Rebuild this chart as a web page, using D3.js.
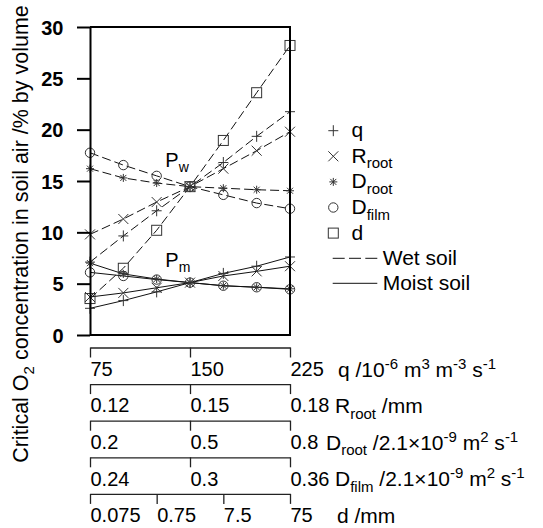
<!DOCTYPE html>
<html>
<head>
<meta charset="utf-8">
<script src="https://cdn.jsdelivr.net/npm/d3@7"></script>
<style>
  body { margin: 0; background: #fff; }
  svg { display: block; font-family: "Liberation Sans", Arial, Helvetica, sans-serif; }
</style>
</head>
<body>
<svg id="chart" width="543" height="528"></svg>
<script>
// Values of each varied property (seven steps each)
const qVals     = [75, 100, 125, 150, 175, 200, 225];
const rRootVals = [0.12, 0.13, 0.14, 0.15, 0.16, 0.17, 0.18];
const dRootVals = [0.2, 0.3, 0.4, 0.5, 0.6, 0.7, 0.8];
const dFilmVals = [0.24, 0.26, 0.28, 0.30, 0.32, 0.34, 0.36];
const dVals     = [0.075, 0.237, 0.75, 2.37, 7.5, 23.7, 75];

// Critical O2 concentration (% by volume) in wet soil
const wetQ     = [7.1, 9.65, 12.1, 14.45, 16.8, 19.35, 21.75];
const wetRRoot = [9.8, 11.3, 12.95, 14.45, 16.2, 17.95, 19.8];
const wetDRoot = [16.2, 15.3, 14.8, 14.45, 14.3, 14.15, 14.05];
const wetDFilm = [17.75, 16.55, 15.5, 14.45, 13.65, 12.85, 12.3];
const wetD     = [3.55, 6.5, 10.2, 14.45, 18.95, 23.6, 28.2];

// Critical O2 concentration (% by volume) in moist soil
const moistQ     = [2.6, 3.35, 4.2, 5.1, 6.0, 6.7, 7.6];
const moistRRoot = [3.7, 4.1, 4.6, 5.1, 5.75, 6.2, 6.7];
const moistDRoot = [7.0, 5.95, 5.45, 5.1, 4.8, 4.65, 4.5];
const moistDFilm = [6.1, 5.75, 5.4, 5.1, 4.8, 4.65, 4.45];

// Tick values and labels
const yTicks      = [0, 5, 10, 15, 20, 25, 30];
const qTicks      = [75, 150, 225];
const qLabels     = ["75", "150", "225"];
const rRootTicks  = [0.12, 0.15, 0.18];
const rRootLabels = ["0.12", "0.15", "0.18"];
const dRootTicks  = [0.2, 0.5, 0.8];
const dRootLabels = ["0.2", "0.5", "0.8"];
const dFilmTicks  = [0.24, 0.3, 0.36];
const dFilmLabels = ["0.24", "0.3", "0.36"];
const dTicks      = [0.075, 0.75, 7.5, 75];
const dLabels     = ["0.075", "0.75", "7.5", "75"];

// Axis titles as [text, role] runs (role: "" normal, "sub", "sup")
const qTitle     = [["q /10", ""], ["-6", "sup"], [" m", ""], ["3", "sup"], [" m", ""], ["-3", "sup"], [" s", ""], ["-1", "sup"]];
const rRootTitle = [["R", ""], ["root", "sub"], [" /mm", ""]];
const dRootTitle = [["D", ""], ["root", "sub"], [" /2.1\u00d710", ""], ["-9", "sup"], [" m", ""], ["2", "sup"], [" s", ""], ["-1", "sup"]];
const dFilmTitle = [["D", ""], ["film", "sub"], [" /2.1\u00d710", ""], ["-9", "sup"], [" m", ""], ["2", "sup"], [" s", ""], ["-1", "sup"]];
const dTitle     = [["d /mm", ""]];

const legendNames = [[["q", ""]], [["R", ""], ["root", "sub"]], [["D", ""], ["root", "sub"]], [["D", ""], ["film", "sub"]], [["d", ""]]];
const legendMarkers = ["plus", "cross", "star", "circle", "square"];

// ---------------------------------------------------------------
const svg = d3.select("#chart");
const plotL = 90, plotR = 290, plotT = 27, plotB = 335;
const FONT = 20;

const y = d3.scaleLinear().domain([0, 30]).range([plotB, plotT]);

const xQ     = d3.scaleLinear().domain([75, 225]).range([plotL, plotR]);
const xRRoot = d3.scaleLinear().domain([0.12, 0.18]).range([plotL, plotR]);
const xDRoot = d3.scaleLinear().domain([0.2, 0.8]).range([plotL, plotR]);
const xDFilm = d3.scaleLinear().domain([0.24, 0.36]).range([plotL, plotR]);
const xD     = d3.scaleLog().domain([0.075, 75]).range([plotL, plotR]);

// write a run of normal / subscript / superscript text into a <text>
function richText(textSel, runs, size) {
  let shift = 0;
  const small = Math.round(size * 0.72);
  runs.forEach(([t, role]) => {
    const target = role === "sub" ? size * 0.27 : role === "sup" ? -size * 0.38 : 0;
    textSel.append("tspan")
      .attr("dy", target - shift)
      .attr("font-size", role ? small : size)
      .text(t);
    shift = target;
  });
}

// marker glyphs
function drawMarker(g, type, cx, cy) {
  const s = g.append("g").attr("transform", `translate(${cx},${cy})`)
    .attr("fill", "none").attr("stroke", "#333").attr("stroke-width", 1);
  if (type === "plus") s.append("path").attr("d", "M-5,0H5M0,-5.5V5.5");
  else if (type === "cross") s.append("path").attr("d", "M-5,-5L5,5M-5,5L5,-5");
  else if (type === "star") s.append("path").attr("d", "M-4,0H4M0,-4V4M-3,-3L3,3M-3,3L3,-3");
  else if (type === "circle") s.append("circle").attr("r", 4.7);
  else if (type === "square") s.append("rect").attr("x", -5).attr("y", -5).attr("width", 10).attr("height", 10);
}

const series = [
  { x: qVals,     sx: xQ,     wet: wetQ,     moist: moistQ,     marker: "plus" },
  { x: rRootVals, sx: xRRoot, wet: wetRRoot, moist: moistRRoot, marker: "cross" },
  { x: dRootVals, sx: xDRoot, wet: wetDRoot, moist: moistDRoot, marker: "star" },
  { x: dFilmVals, sx: xDFilm, wet: wetDFilm, moist: moistDFilm, marker: "circle" },
  { x: dVals,     sx: xD,     wet: wetD,     moist: null,       marker: "square" }
];

// ---- curves
const lines = svg.append("g");
const marks = svg.append("g");
series.forEach(s => {
  const line = d3.line().x((d, i) => s.sx(s.x[i])).y(d => y(d));
  lines.append("path").datum(s.wet).attr("d", line)
    .attr("fill", "none").attr("stroke", "#111").attr("stroke-width", 1)
    .attr("stroke-dasharray", "9,4");
  if (s.moist) {
    lines.append("path").datum(s.moist).attr("d", line)
      .attr("fill", "none").attr("stroke", "#111").attr("stroke-width", 1);
  }
});
series.forEach(s => {
  s.wet.forEach((v, i) => drawMarker(marks, s.marker, s.sx(s.x[i]), y(v)));
  if (s.moist) s.moist.forEach((v, i) => drawMarker(marks, s.marker, s.sx(s.x[i]), y(v)));
});

// ---- frame and y axis
const yAxis = svg.append("g").attr("transform", `translate(${plotL},0)`)
  .call(d3.axisLeft(y).tickValues(yTicks).tickSize(13).tickSizeOuter(0).tickPadding(13.5));
yAxis.select(".domain").attr("stroke", "#000").attr("stroke-width", 2);
yAxis.selectAll(".tick line").attr("stroke", "#000").attr("stroke-width", 2);
yAxis.selectAll(".tick text").attr("font-size", FONT).attr("font-weight", "bold")
  .attr("font-family", null).attr("fill", "#000").attr("dy", "0.36em");

svg.append("path")
  .attr("d", `M${plotL},${plotT}H${plotR}V${plotB}H${plotL}`)
  .attr("fill", "none").attr("stroke", "#000").attr("stroke-width", 2);

// y title
const yTitle = svg.append("text")
  .attr("transform", `translate(28,234) rotate(-90)`)
  .attr("text-anchor", "middle").attr("fill", "#000");
richText(yTitle, [["Critical O", ""], ["2", "sub"], [" concentration in soil air /% by volume", ""]], 21.5);

// ---- stacked parameter axes under the plot
const paramAxes = [
  { scale: xQ,     ticks: qTicks,     labels: qLabels,     title: qTitle,     titleX: 338 },
  { scale: xRRoot, ticks: rRootTicks, labels: rRootLabels, title: rRootTitle, titleX: 335 },
  { scale: xDRoot, ticks: dRootTicks, labels: dRootLabels, title: dRootTitle, titleX: 326 },
  { scale: xDFilm, ticks: dFilmTicks, labels: dFilmLabels, title: dFilmTitle, titleX: 335 },
  { scale: xD,     ticks: dTicks,     labels: dLabels,     title: dTitle,     titleX: 337 }
];
paramAxes.forEach((a, i) => {
  const yPos = 347.5 + i * 36.6;
  const g = svg.append("g").attr("transform", `translate(0,${yPos})`)
    .call(d3.axisBottom(a.scale).tickValues(a.ticks)
      .tickFormat(d => a.labels[a.ticks.indexOf(d)])
      .tickSize(10).tickSizeOuter(0).tickPadding(2));
  g.select(".domain").attr("stroke", "#222").attr("stroke-width", 1.3);
  g.selectAll(".tick line").attr("stroke", "#222").attr("stroke-width", 1.3);
  g.selectAll(".tick text").attr("font-size", FONT).attr("font-family", null)
    .attr("fill", "#000").attr("text-anchor", "start").attr("x", 0).attr("dy", "0.82em");
  const t = svg.append("text").attr("x", a.titleX).attr("y", yPos + 29).attr("fill", "#000");
  richText(t, a.title, 21);
});

// ---- convergence point labels
const pw = svg.append("text").attr("x", xQ(131.5)).attr("y", y(16.4)).attr("fill", "#000");
richText(pw, [["P", ""], ["w", "sub"]], 20);
const pm = svg.append("text").attr("x", xQ(131.5)).attr("y", y(6.65)).attr("fill", "#000");
richText(pm, [["P", ""], ["m", "sub"]], 20);

// ---- legend
const legX = 333.3, legY0 = 130.7, legStep = 25.6;
legendMarkers.forEach((m, i) => {
  const cy = legY0 + i * legStep;
  drawMarker(svg, m, legX, cy);
  const t = svg.append("text").attr("x", 351.5).attr("y", cy + 6.5).attr("fill", "#000");
  richText(t, legendNames[i], 21);
});
const lineKeys = [["Wet soil", "12,4.3"], ["Moist soil", null]];
lineKeys.forEach(([label, dash], i) => {
  const cy = 258.3 + i * 25;
  svg.append("line").attr("x1", 332.7).attr("x2", 377.3).attr("y1", cy).attr("y2", cy)
    .attr("stroke", "#111").attr("stroke-width", 1).attr("stroke-dasharray", dash);
  svg.append("text").attr("x", 382.7).attr("y", cy + 7).attr("font-size", 21).attr("fill", "#000").text(label);
});
</script>
</body>
</html>
